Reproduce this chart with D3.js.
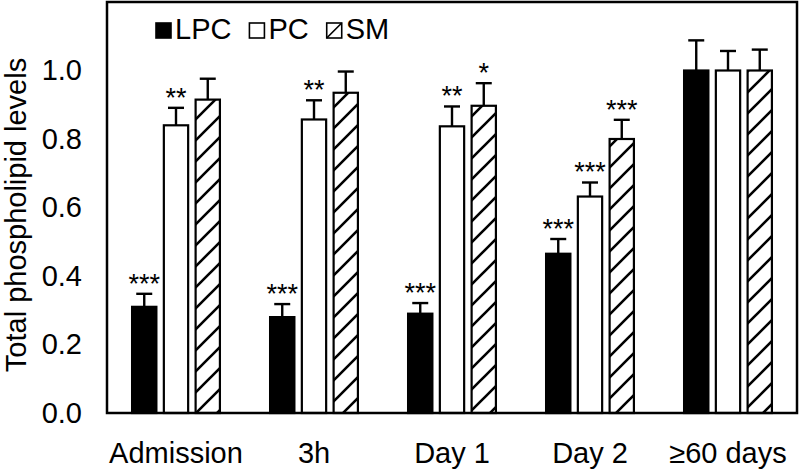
<!DOCTYPE html>
<html>
<head>
<meta charset="utf-8">
<script src="https://cdn.jsdelivr.net/npm/d3@7"></script>
<style>
  body { margin: 0; background: #fff; }
  svg { display: block; font-family: "Liberation Sans", Arial, sans-serif; }
</style>
</head>
<body>
<svg id="chart" width="800" height="472"></svg>
<script>
// ---- data ----
const categories = ["Admission", "3h", "Day 1", "Day 2", "\u226560 days"];
const seriesNames = ["LPC", "PC", "SM"];
const lpcValues = [0.31, 0.28, 0.29, 0.465, 1.0];
const pcValues  = [0.84, 0.857, 0.837, 0.632, 1.0];
const smValues  = [0.915, 0.935, 0.897, 0.80, 1.0];
const lpcErrors = [0.038, 0.038, 0.031, 0.043, 0.088];
const pcErrors  = [0.051, 0.056, 0.058, 0.041, 0.057];
const smErrors  = [0.061, 0.062, 0.066, 0.056, 0.061];
const lpcSignif = ["***", "***", "***", "***", ""];
const pcSignif  = ["**", "**", "**", "***", ""];
const smSignif  = ["", "", "*", "***", ""];
const yTickValues = [0.0, 0.2, 0.4, 0.6, 0.8, 1.0];
const yTitle = "Total phospholipid levels";

const seriesValues = { LPC: lpcValues, PC: pcValues, SM: smValues };
const seriesErrors = { LPC: lpcErrors, PC: pcErrors, SM: smErrors };
const seriesSignif = { LPC: lpcSignif, PC: pcSignif, SM: smSignif };

// ---- layout ----
const svg = d3.select("#chart");
const plot = { left: 107, right: 797, top: 2, bottom: 413 };
const FONT = 29;

const x = d3.scaleBand().domain(categories).range([plot.left, plot.right]).padding(0);
const xi = d3.scaleBand().domain(seriesNames).range([0, x.bandwidth()])
  .paddingInner(0.235).paddingOuter(0.79);
const y = d3.scaleLinear().domain([0, 1.2]).range([plot.bottom, plot.top]);

// hatch pattern
const defs = svg.append("defs");
const P = 21;
const pat = defs.append("pattern").attr("id", "hatch")
  .attr("patternUnits", "userSpaceOnUse").attr("width", P).attr("height", P);
pat.append("rect").attr("width", P).attr("height", P).attr("fill", "#fff");
pat.append("path")
  .attr("d", `M0,${P} L${P},0 M${-P/2},${P/2} L${P/2},${-P/2} M${P/2},${P*1.5} L${P*1.5},${P/2}`)
  .attr("stroke", "#000").attr("stroke-width", 2.6);

const fillFor = { LPC: "#000", PC: "#fff", SM: "url(#hatch)" };

// flattened records
const records = [];
categories.forEach((c, i) => {
  seriesNames.forEach(s => {
    records.push({ cat: c, series: s, value: seriesValues[s][i], err: seriesErrors[s][i], sig: seriesSignif[s][i] });
  });
});

// bars
svg.append("g").selectAll("rect").data(records).join("rect")
  .attr("x", d => x(d.cat) + xi(d.series))
  .attr("y", d => y(d.value))
  .attr("width", xi.bandwidth())
  .attr("height", d => y(0) - y(d.value))
  .attr("fill", d => fillFor[d.series])
  .attr("stroke", "#000").attr("stroke-width", 2.2);

// error bars (upper only)
const eb = svg.append("g").attr("stroke", "#000").attr("stroke-width", 2.4);
records.forEach(d => {
  const cx = x(d.cat) + xi(d.series) + xi.bandwidth() / 2;
  eb.append("line").attr("x1", cx).attr("x2", cx).attr("y1", y(d.value)).attr("y2", y(d.value + d.err));
  eb.append("line").attr("x1", cx - 8).attr("x2", cx + 8).attr("y1", y(d.value + d.err)).attr("y2", y(d.value + d.err));
});

// significance labels
svg.append("g").selectAll("text").data(records.filter(d => d.sig)).join("text")
  .attr("x", d => x(d.cat) + xi(d.series) + xi.bandwidth() / 2)
  .attr("y", d => y(d.value + d.err) - 1)
  .attr("text-anchor", "middle")
  .attr("font-size", 27)
  .text(d => d.sig);

// y axis
const yAxis = svg.append("g").attr("transform", `translate(${plot.left},0)`)
  .call(d3.axisLeft(y).tickValues(yTickValues).tickFormat(d3.format(".1f")).tickSize(0).tickPadding(25));
yAxis.select(".domain").remove();
yAxis.selectAll("text").attr("font-size", FONT).attr("font-family", "Liberation Sans, Arial, sans-serif").attr("fill", "#000");

// x axis labels
const xAxis = svg.append("g").attr("transform", `translate(0,${plot.bottom})`)
  .call(d3.axisBottom(x).tickSize(0).tickPadding(29));
xAxis.select(".domain").remove();
xAxis.selectAll("text").attr("font-size", FONT).attr("font-family", "Liberation Sans, Arial, sans-serif").attr("fill", "#000");

// frame
svg.append("rect")
  .attr("x", plot.left).attr("y", plot.top)
  .attr("width", plot.right - plot.left).attr("height", plot.bottom - plot.top)
  .attr("fill", "none").attr("stroke", "#000").attr("stroke-width", 2.5);

// y title
svg.append("text")
  .attr("transform", `translate(26,215) rotate(-90)`)
  .attr("text-anchor", "middle")
  .attr("font-size", 29)
  .text(yTitle);

// legend
const legend = svg.append("g");
let lx = 156;
const ly = 39, sq = 15;
seriesNames.forEach(s => {
  legend.append("rect").attr("x", lx).attr("y", ly - sq - 1).attr("width", sq).attr("height", sq)
    .attr("fill", s === "LPC" ? "#000" : "#fff").attr("stroke", "#000").attr("stroke-width", 1.6);
  if (s === "SM") {
    legend.append("line").attr("x1", lx).attr("y1", ly - 1).attr("x2", lx + sq).attr("y2", ly - sq - 1)
      .attr("stroke", "#000").attr("stroke-width", 1.6);
  }
  const t = legend.append("text").attr("x", lx + sq + 4).attr("y", ly).attr("font-size", FONT).text(s);
  lx += sq + 4 + t.node().getComputedTextLength() + 18;
});
</script>
</body>
</html>
